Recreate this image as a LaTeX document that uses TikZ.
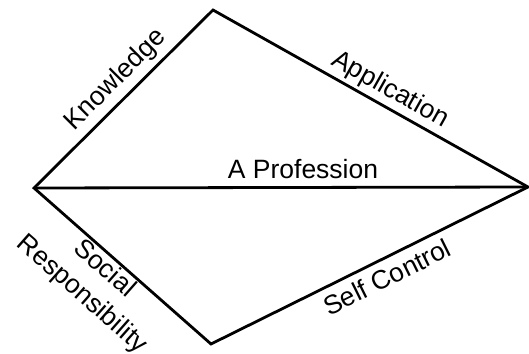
\documentclass[tikz,border=0pt]{standalone}
\usepackage{fontspec}
\setmainfont{Liberation Sans}
\begin{document}
\begin{tikzpicture}[x=1pt,y=-1pt,
  edge/.style={line width=2.8pt, line join=miter},
  lbl/.style={font=\fontsize{26.5}{34}\selectfont, inner sep=0pt, anchor=center}]
\useasboundingbox (0,0) rectangle (529,353);
\coordinate (T) at (213,10);
\coordinate (L) at (34,188);
\coordinate (R) at (528,187);
\coordinate (B) at (211,344);
\draw[edge] (L) -- (T) -- (R) -- (B) -- cycle;
\draw[edge] (L) -- (R);
\node[lbl, rotate=45] (kn) at (116,80) {Knowledge};
\node[lbl, rotate=-29.3] (ap) at (390,90) {Application};
\node[lbl, rotate=26.3] (sc) at (387,277) {Self Control};
\node[lbl, rotate=-41.4, align=center] (sr) at (93,282) {Social\\Responsibility};
\node[lbl, anchor=base] (pr) at (303,178) {A Profession};
\end{tikzpicture}
\end{document}
